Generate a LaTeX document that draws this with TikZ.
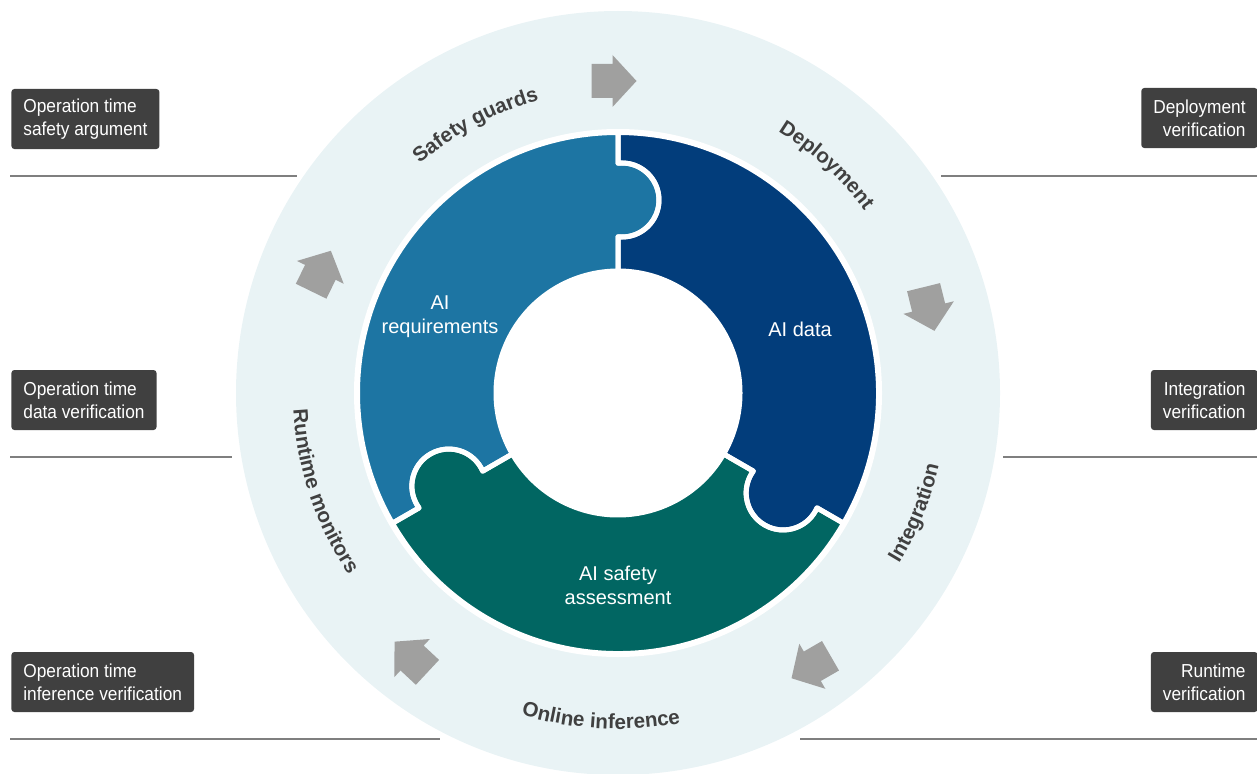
\documentclass[tikz,border=0pt]{standalone}
\usepackage{fontspec}
\setmainfont{Liberation Sans}
\newfontfamily\boxfamily{Liberation Sans}[FakeStretch=0.92]
\usetikzlibrary{decorations.text}
\definecolor{RingBg}{HTML}{E9F3F5}
\definecolor{PieceBlue}{HTML}{1D75A3}
\definecolor{PieceNavy}{HTML}{023D7B}
\definecolor{PieceTeal}{HTML}{016662}
\definecolor{BoxGray}{HTML}{404040}
\definecolor{LabelGray}{HTML}{404040}
\definecolor{ArrowGray}{HTML}{A0A09F}
\definecolor{RuleGray}{HTML}{7F7F7F}

\newcommand{\ringfont}{\fontsize{10.3}{12}\selectfont\bfseries}
% one puzzle piece, spanning 0..120 deg: knob at 0, socket at 120
\newcommand{\piecepath}{(0:122) -- (156.2,0) arc[start angle=173.8, end angle=366.2, radius=37]
    -- (0:260.5) arc[start angle=0, end angle=120, radius=260.5]
    -- (120:229.8) arc[start angle=486.2, end angle=293.8, radius=37]
    -- (120:122) arc[start angle=120, end angle=0, radius=122] -- cycle}

\tikzset{
    sidebox/.style={fill=BoxGray, text=white, rounded corners=1.5pt, minimum height=30pt,
        inner xsep=6pt, inner ysep=0pt, font=\boxfamily\fontsize{9.4}{11.5}\selectfont},
    piecetext/.style={text=white, align=center, font=\fontsize{10}{12}\selectfont},
    ringlabel/.style={decorate, decoration={text along path, text align=center,
        text={|\ringfont\color{LabelGray}|#1}}}
}

\begin{document}
\begin{tikzpicture}[x=0.5pt, y=0.5pt]
    \useasboundingbox (0,0) rectangle (1257,773);

    % Separator rules
    \draw[RuleGray, line width=0.6pt] (10,597) -- (297,597);
    \draw[RuleGray, line width=0.6pt] (10,316) -- (232,316);
    \draw[RuleGray, line width=0.6pt] (10,34) -- (440,34);
    \draw[RuleGray, line width=0.6pt] (941,597) -- (1257,597);
    \draw[RuleGray, line width=0.6pt] (1003,316) -- (1257,316);
    \draw[RuleGray, line width=0.6pt] (800,34) -- (1257,34);

    % Outer ring
    \fill[RingBg] (618,380) circle (382);
    \fill[white] (618,380) circle (264);

    % Puzzle pieces
    \foreach \rot/\col in {90/PieceBlue, -30/PieceNavy, 210/PieceTeal} {
        \begin{scope}[shift={(618,380)}, rotate=\rot]
            \fill[\col] \piecepath;
        \end{scope}
    }
    \foreach \rot in {90, -30, 210} {
        \begin{scope}[shift={(618,380)}, rotate=\rot]
            \draw[white, line width=2.5pt, line join=round] \piecepath;
        \end{scope}
    }

    % Piece labels
    \node[piecetext] (aiReq) at (440,456) {AI\\requirements};
    \node[piecetext] (aiData) at (800,444) {AI data};
    \node[piecetext] (aiSafety) at (618,188) {AI safety\\assessment};

    % Block arrows round the ring
    \foreach \x/\y/\a in {614/692/0, 929/464/-76, 811/106/210, 411/116/137, 321/502/64} {
        \fill[ArrowGray, shift={(\x,\y)}, rotate=\a]
            (-22.5,-17) -- (-1.5,-17) -- (-1.5,-26) -- (22.5,0) -- (-1.5,26) -- (-1.5,17) -- (-22.5,17) -- cycle;
    }

    % Ring labels
    \begin{scope}[shift={(618,380)}]
        \path[ringlabel=Safety guards] (143:303) arc[start angle=143, end angle=93, radius=303];
        \path[ringlabel=Deployment] (77:306.5) arc[start angle=77, end angle=18, radius=306.5];
        \path[ringlabel=Integration] (-48:329) arc[start angle=-48, end angle=4, radius=329];
        \path[ringlabel=Online inference] (247:336) arc[start angle=247, end angle=287, radius=336];
        \path[ringlabel=Runtime monitors] (168:325) arc[start angle=168, end angle=229, radius=325];
    \end{scope}

    % Side boxes
    \node[sidebox, anchor=west, align=left] (opSafety) at (11,654) {Operation time\\safety argument};
    \node[sidebox, anchor=west, align=left] (opData) at (11,373) {Operation time\\data verification};
    \node[sidebox, anchor=west, align=left] (opInference) at (11,91) {Operation time\\inference verification};
    \node[sidebox, anchor=east, align=right] (deployVer) at (1258,655) {Deployment\\verification};
    \node[sidebox, anchor=east, align=right] (integVer) at (1258,373) {Integration\\verification};
    \node[sidebox, anchor=east, align=right] (runtimeVer) at (1258,91) {Runtime\\verification};
\end{tikzpicture}
\end{document}
